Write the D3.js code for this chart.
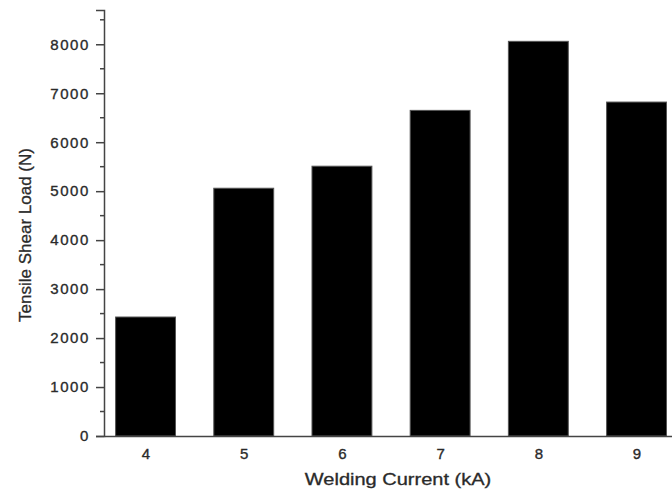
<!DOCTYPE html>
<html>
<head>
<meta charset="utf-8">
<script src="https://cdn.jsdelivr.net/npm/d3@7"></script>
<style>
  body { margin: 0; background: #fff; }
  svg { display: block; font-family: "Liberation Sans", Arial, sans-serif; }
</style>
</head>
<body>
<script>
// Data
const currents = [4, 5, 6, 7, 8, 9];               // kA
const loads = [2430, 5060, 5510, 6650, 8060, 6820]; // N
const yTicks = [0, 1000, 2000, 3000, 4000, 5000, 6000, 7000, 8000];
const yMinor = d3.range(500, 8700, 1000);

const width = 672, height = 490;
const svg = d3.select("body").append("svg")
  .attr("width", width)
  .attr("height", height);

// Scales
const x = d3.scaleLinear()
  .domain([3.577, 9.45])
  .range([104, 104 + (9.45 - 3.577) * 98.2]);

const y = d3.scaleLinear()
  .domain([0, 8700])
  .range([436, 10]);

const barW = 0.61; // bar width in kA units
const axisColor = "#444";

// Bars
svg.selectAll("rect.bar")
  .data(currents)
  .enter()
  .append("rect")
  .attr("class", "bar")
  .attr("x", d => x(d - barW / 2))
  .attr("y", (d, i) => y(loads[i]))
  .attr("width", x(barW) - x(0))
  .attr("height", (d, i) => y(0) - y(loads[i]))
  .attr("fill", "#000")
  .attr("stroke", "#555")
  .attr("stroke-width", 1);

// Y axis
const yAxis = svg.append("g")
  .attr("transform", `translate(${x.range()[0]},0)`)
  .call(d3.axisLeft(y).tickValues(yTicks).tickSize(8).tickPadding(6).tickFormat(d3.format("d")));

// minor ticks
svg.append("g")
  .selectAll("line")
  .data(yMinor)
  .enter()
  .append("line")
  .attr("x1", x.range()[0] - 4)
  .attr("x2", x.range()[0])
  .attr("y1", d => y(d))
  .attr("y2", d => y(d))
  .attr("stroke", axisColor)
  .attr("stroke-width", 1.5);

yAxis.select(".domain").attr("stroke", axisColor).attr("stroke-width", 1.5);
yAxis.selectAll(".tick line").attr("stroke", axisColor).attr("stroke-width", 1.5);
yAxis.selectAll(".tick text")
  .attr("fill", "#2a2a2a")
  .attr("stroke", "#2a2a2a")
  .attr("stroke-width", 0.35)
  .attr("font-size", "15px")
  .attr("letter-spacing", "1.6px");

// X axis
const xAxis = svg.append("g")
  .attr("transform", `translate(0,${y(0)})`)
  .call(d3.axisBottom(x).tickValues(currents).tickSize(0).tickPadding(12).tickFormat(d3.format("d")));

xAxis.select(".domain").attr("stroke", axisColor).attr("stroke-width", 1.5);
xAxis.selectAll(".tick text")
  .attr("fill", "#2a2a2a")
  .attr("stroke", "#2a2a2a")
  .attr("stroke-width", 0.35)
  .attr("font-size", "15px");

// Axis titles
svg.append("text")
  .text("Welding Current (kA)")
  .attr("transform", "translate(398,485) scale(1.25,1)")
  .attr("text-anchor", "middle")
  .attr("font-size", "16px")
  .attr("fill", "#2a2a2a")
  .attr("stroke", "#2a2a2a")
  .attr("stroke-width", 0.3);

svg.append("text")
  .text("Tensile Shear Load (N)")
  .attr("transform", "rotate(-90)")
  .attr("x", -235)
  .attr("y", 31)
  .attr("text-anchor", "middle")
  .attr("font-size", "17px")
  .attr("fill", "#2a2a2a")
  .attr("stroke", "#2a2a2a")
  .attr("stroke-width", 0.3);
</script>
</body>
</html>
